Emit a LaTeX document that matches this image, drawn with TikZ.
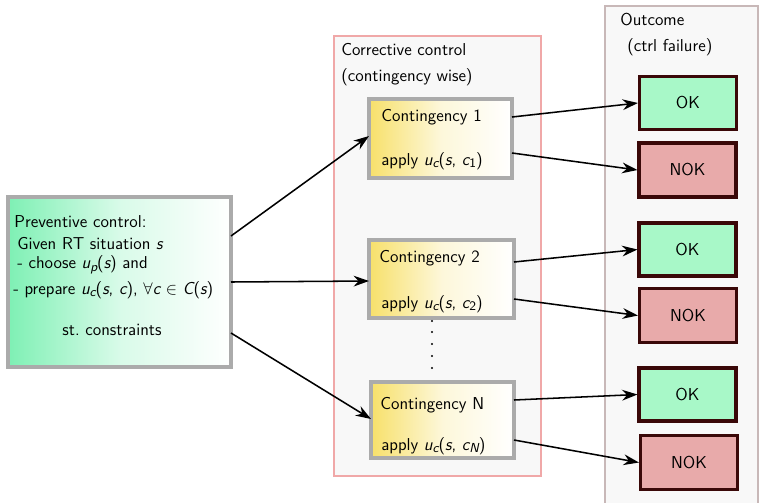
\documentclass[tikz,border=0pt]{standalone}
\usetikzlibrary{arrows.meta}
\renewcommand{\familydefault}{\sfdefault}
\newcommand{\iv}[1]{{\itshape #1}}
\newcommand{\sbs}[1]{\raisebox{-0.35ex}{\fontsize{8.5}{9}\selectfont #1}}
\definecolor{lgreen}{HTML}{7EF0B4}
\definecolor{lyellow}{HTML}{F7E06A}
\definecolor{okfill}{HTML}{A8F8C8}
\definecolor{nokfill}{HTML}{E8AAAA}
\definecolor{boxdark}{HTML}{3A0808}
\definecolor{pinkb}{HTML}{F0A8A8}
\definecolor{outb}{HTML}{C8B8B8}
\definecolor{panel}{HTML}{F8F8F8}
\definecolor{grayb}{HTML}{ABABAB}
\begin{document}
\begin{tikzpicture}[x=0.65pt,y=-0.65pt,
  font=\fontsize{11.2}{13}\selectfont,
  txt/.style={anchor=west,inner sep=0pt},
  okbox/.style={draw=boxdark,line width=2pt,fill=okfill,minimum width=97*0.65pt,minimum height=53*0.65pt,inner sep=0pt},
  nokbox/.style={draw=boxdark,line width=2pt,fill=nokfill,minimum width=97*0.65pt,minimum height=54*0.65pt,inner sep=0pt},
  arr/.style={-{Stealth[length=10pt,width=7pt]},line width=1pt}]
\fill[white] (0,0) rectangle (760,502);
\useasboundingbox (0,0) rectangle (760,502);
% panels
\draw[draw=pinkb,line width=1.6pt,fill=panel] (334,36) rectangle (541,476);
\node[txt] (ct1) at (341,50) {Corrective control};
\node[txt] (ct2) at (341,77) {(contingency wise)};
\draw[draw=outb,line width=1.6pt,fill=panel] (605,6) rectangle (758,504);
\node[txt] (ot1) at (620,20) {Outcome};
\node[txt] (ot2) at (627,47) {(ctrl failure)};
% preventive box
\shade[left color=lgreen,right color=white,middle color=lgreen!30] (8,197) rectangle (231,367);
\draw[grayb,line width=2.2pt] (8,197) rectangle (231,367);
\node[txt] (p1) at (14,222) {Preventive control:};
\node[txt] (p2) at (17,244) {Given RT situation \iv{s}};
\node[txt] (p3) at (17,265) {- choose \iv{u}\sbs{\iv{p}}(\iv{s}) and};
\node[txt] (p4) at (13,290) {- prepare \iv{u}\sbs{\iv{c}}(\iv{s}, \iv{c}), $\forall$\iv{c} $\in$ \iv{C}(\iv{s})};
\node[anchor=center,inner sep=0pt] (p5) at (112,330) {st.\ constraints};
\coordinate (po1) at (231,236);
\coordinate (po2) at (231,282);
\coordinate (po3) at (231,333);
% contingency boxes
\shade[left color=lyellow,right color=white,middle color=lyellow!25] (369,99) rectangle (512,178);
\draw[grayb,line width=2pt] (369,99) rectangle (512,178);
\node[txt] (c1a) at (381,117) {Contingency 1};
\node[txt] (c1b) at (381,161) {apply \iv{u}\sbs{\iv{c}}(\iv{s}, \iv{c}\sbs{1})};
\coordinate (c1in) at (369,136);
\coordinate (c1o1) at (512,117);
\coordinate (c1o2) at (512,153);
\shade[left color=lyellow,right color=white,middle color=lyellow!25] (369,240) rectangle (514,318);
\draw[grayb,line width=2pt] (369,240) rectangle (514,318);
\node[txt] (c2a) at (379,258) {Contingency 2};
\node[txt] (c2b) at (381,304) {apply \iv{u}\sbs{\iv{c}}(\iv{s}, \iv{c}\sbs{2})};
\coordinate (c2in) at (369,281);
\coordinate (c2o1) at (514,262);
\coordinate (c2o2) at (514,299);
\shade[left color=lyellow,right color=white,middle color=lyellow!25] (371,382) rectangle (514,458);
\draw[grayb,line width=2pt] (371,382) rectangle (514,458);
\node[txt] (c3a) at (380,405) {Contingency N};
\node[txt] (c3b) at (381,446) {apply \iv{u}\sbs{\iv{c}}(\iv{s}, \iv{c}\sbs{\iv{N}})};
\coordinate (c3in) at (371,419);
\coordinate (c3o1) at (514,400);
\coordinate (c3o2) at (514,440);
% dots
\foreach \y in {321,332,344,356,368} \fill[black] (432,\y) circle (0.75pt);
% outcome boxes
\node[okbox] (ok1) at (688,103) {OK};
\node[nokbox] (nok1) at (687.5,170) {NOK};
\node[okbox] (ok2) at (687.5,249.5) {OK};
\node[nokbox] (nok2) at (688,315.5) {NOK};
\node[okbox] (ok3) at (687.5,394.5) {OK};
\node[nokbox] (nok3) at (689,462.5) {NOK};
% arrows
\draw[arr] (po1) -- (c1in);
\draw[arr] (po2) -- (c2in);
\draw[arr] (po3) -- (c3in);
\draw[arr] (c1o1) -- (ok1.west);
\draw[arr] (c1o2) -- (nok1.west);
\draw[arr] (c2o1) -- (ok2.west);
\draw[arr] (c2o2) -- (nok2.west);
\draw[arr] (c3o1) -- (ok3.west);
\draw[arr] (c3o2) -- (nok3.west);
\end{tikzpicture}
\end{document}
